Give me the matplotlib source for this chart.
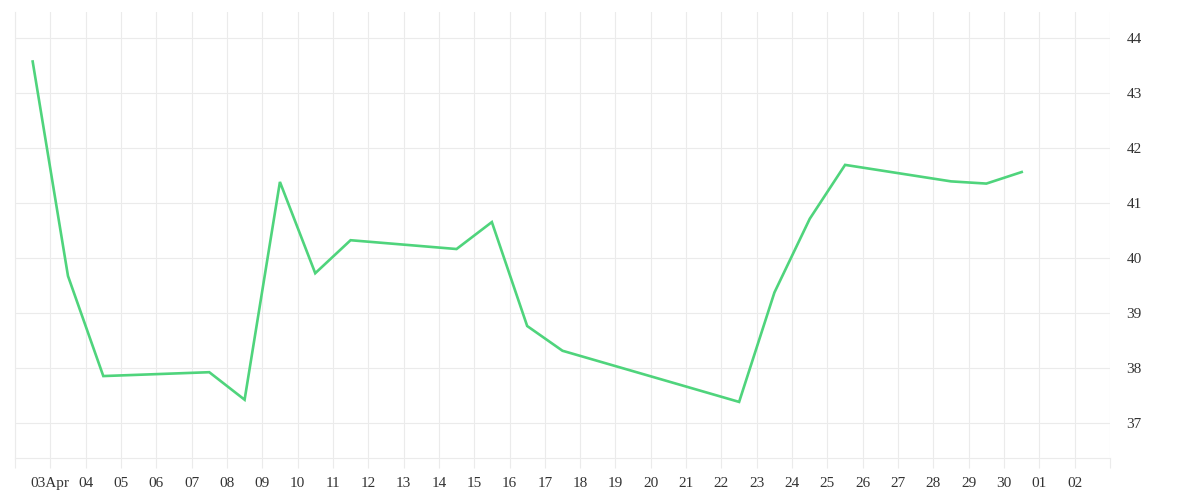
import matplotlib
matplotlib.use("Agg")
import matplotlib.pyplot as plt
import matplotlib.dates as mdates
import numpy as np
import datetime as dt

# Data (timestamps at noon)
dates = ["2024-04-02 12:00", "2024-04-03 12:00", "2024-04-04 12:00", "2024-04-07 12:00",
         "2024-04-08 12:00", "2024-04-09 12:00", "2024-04-10 12:00", "2024-04-11 12:00",
         "2024-04-14 12:00", "2024-04-15 12:00", "2024-04-16 12:00", "2024-04-17 12:00",
         "2024-04-22 12:00", "2024-04-23 12:00", "2024-04-24 12:00", "2024-04-25 12:00",
         "2024-04-28 12:00", "2024-04-29 12:00", "2024-04-30 12:00"]
values = [43.57, 39.67, 37.85, 37.92, 37.42, 41.38, 39.72, 40.32,
          40.16, 40.65, 38.76, 38.31, 37.38, 39.37, 40.71, 41.69,
          41.39, 41.35, 41.56]
y_ticks = [37, 38, 39, 40, 41, 42, 43, 44]

x = [dt.datetime.strptime(d, "%Y-%m-%d %H:%M") for d in dates]

plt.rcParams['font.family'] = ['Liberation Serif', 'DejaVu Serif']

fig = plt.figure(figsize=(12, 5), dpi=100)
ax = fig.add_axes([15/1200, 42/500, (1110-15)/1200, (458-12)/500])

grid_c = '#ebebeb'
ax.plot(x, values, color='#4fd47c', linewidth=1.9, solid_joinstyle='miter', zorder=3)

start = dt.datetime(2024, 4, 2)
end = dt.datetime(2024, 5, 3)
ax.set_xlim(start, end)
ax.set_ylim(36.36, 44.47)

days = [start + dt.timedelta(days=i) for i in range(32)]
ax.set_xticks(days)
labels = []
for d in days:
    if d == start or d == end:
        labels.append('')
    elif d.day == 3 and d.month == 4:
        labels.append(d.strftime('%d') + 'Apr')
    else:
        labels.append(d.strftime('%d'))
ax.set_xticklabels(labels)

ax.yaxis.tick_right()
ax.set_yticks(y_ticks)
ax.set_yticklabels([str(v) for v in y_ticks])

ax.grid(True, color=grid_c, linewidth=0.8)
for s in ['top', 'right']:
    ax.spines[s].set_visible(False)
ax.spines['left'].set_color(grid_c)
ax.spines['left'].set_linewidth(0.8)
ax.spines['bottom'].set_color(grid_c)
ax.spines['bottom'].set_linewidth(0.8)

ax.tick_params(axis='x', colors=grid_c, length=7.5, width=0.8, pad=6, labelsize=11, labelcolor='#333333')
ax.tick_params(axis='y', length=0, pad=12, labelsize=11, labelcolor='#333333')

fig.savefig('out.png', dpi=100, facecolor='white')
